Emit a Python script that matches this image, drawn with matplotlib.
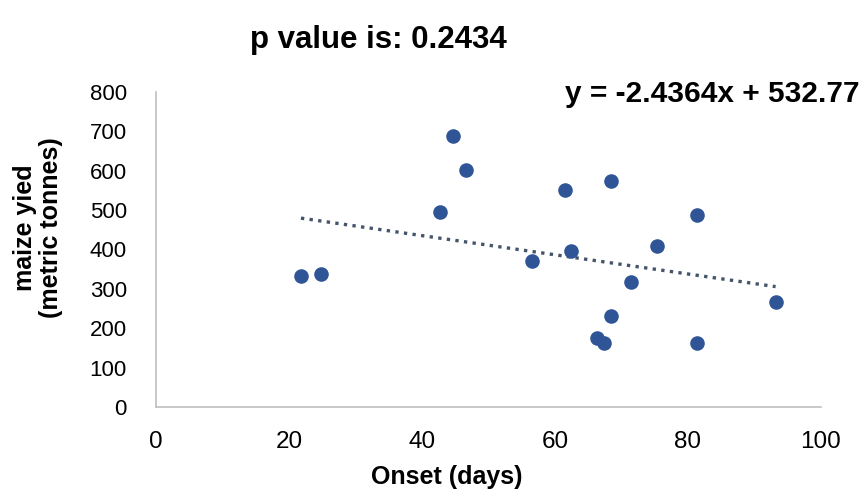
import numpy as np
import matplotlib.pyplot as plt

plt.rcParams['font.family'] = ['Liberation Sans', 'DejaVu Sans']

# Onset (days) vs maize yield
onset = [21.8, 24.8, 44.6, 46.6, 42.7, 61.5, 68.5, 81.4, 75.4,
         62.4, 56.5, 71.5, 93.2, 68.5, 66.4, 67.4, 81.4]
yield_t = [333, 337, 688, 601, 495, 551, 574, 487, 410,
           396, 372, 317, 266, 232, 174, 162, 163]

# trend line from the printed equation
slope = -2.4364
intercept = 532.77
p_value = 0.2434

fig = plt.figure(figsize=(8.64, 4.92), dpi=100)
ax = fig.add_axes([0.1806, 0.1728, 0.7694, 0.6402])

ax.scatter(onset, yield_t, s=110, color='#2F5597', zorder=3, linewidths=0)

xl = np.array([min(onset), max(onset)])
ax.plot(xl, slope * xl + intercept, linestyle=(0, (1, 1.6)), color='#44546A', lw=2.4)

ax.set_xlim(0, 100)
ax.set_ylim(0, 800)
ax.set_xticks(range(0, 101, 20))
ax.set_yticks(range(0, 801, 100))
ax.tick_params(length=0)
ax.tick_params(axis='x', pad=17, labelsize=17.5)
ax.tick_params(axis='y', pad=21, labelsize=16)
for s in ['top', 'right']:
    ax.spines[s].set_visible(False)
for s in ['left', 'bottom']:
    ax.spines[s].set_color('#BFBFBF')
    ax.spines[s].set_linewidth(1.2)

fig.text(0.517, 0.006, 'Onset (days)', ha='center', va='bottom', fontsize=18, fontweight='bold')
fig.text(0.044, 0.537, 'maize yied\n(metric tonnes)', rotation=90, ha='center', va='center',
         fontsize=18, fontweight='bold', linespacing=1.1)

fig.text(0.289, 0.918, f'p value is: {p_value}', fontsize=22.5, fontweight='bold', va='center')
fig.text(0.995, 0.808, f'y = {slope}x + {intercept}', fontsize=21.5, fontweight='bold',
         ha='right', va='center')

fig.savefig('out.png', dpi=100)
